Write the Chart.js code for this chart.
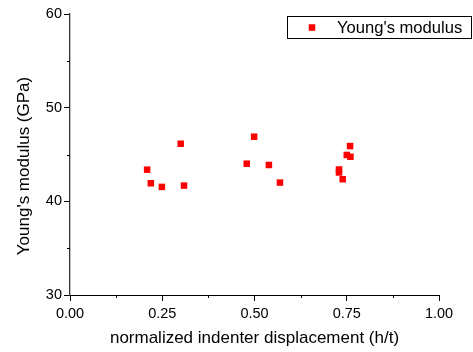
<!DOCTYPE html>
<html>
<head>
<meta charset="utf-8">
<script src="https://cdn.jsdelivr.net/npm/chart.js@4/dist/chart.umd.min.js"></script>
<style>
html,body{margin:0;padding:0;background:#fff;}
canvas{display:block;}
</style>
</head>
<body>
<canvas id="c" width="473" height="352"></canvas>
<script>
const seriesLabel = "Young's modulus";
const xValues = [0.209, 0.219, 0.249, 0.300, 0.309, 0.479, 0.499, 0.539, 0.569, 0.729, 0.729, 0.739, 0.750, 0.760, 0.759];
const yValues = [43.38, 41.93, 41.54, 46.15, 41.68, 44.02, 46.90, 43.88, 42.00, 43.40, 43.08, 42.36, 44.95, 44.76, 45.90];
const xTicks = [0, 0.25, 0.5, 0.75, 1];
const yTicks = [30, 40, 50, 60];
const xMinorTicks = [0.125, 0.375, 0.625, 0.875];
const yMinorTicks = [35, 45, 55];
const xTitle = "normalized indenter displacement (h/t)";
const yTitle = "Young's modulus (GPa)";

const FONT = '"Liberation Sans", Arial, Helvetica, sans-serif';
const RED = '#ff0000';

const points = xValues.map((x, i) => ({x: x, y: yValues[i]}));

const extras = {
  id: 'extras',
  afterDraw(chart) {
    const ctx = chart.ctx;
    const xs = chart.scales.x, ys = chart.scales.y;
    ctx.save();
    // minor ticks
    ctx.strokeStyle = '#000';
    ctx.lineWidth = 1;
    xMinorTicks.forEach(v => {
      const px = Math.round(xs.getPixelForValue(v)) + 0.5;
      ctx.beginPath();
      ctx.moveTo(px, xs.top);
      ctx.lineTo(px, xs.top + 3);
      ctx.stroke();
    });
    yMinorTicks.forEach(v => {
      const py = Math.round(ys.getPixelForValue(v)) + 0.5;
      ctx.beginPath();
      ctx.moveTo(ys.right, py);
      ctx.lineTo(ys.right - 3, py);
      ctx.stroke();
    });
    // y title
    ctx.fillStyle = '#000';
    ctx.font = '17px ' + FONT;
    ctx.textAlign = 'center';
    ctx.textBaseline = 'middle';
    ctx.translate(24.5, 166);
    ctx.rotate(-Math.PI / 2);
    ctx.fillText(yTitle, 0, 0);
    ctx.restore();

    // legend
    ctx.save();
    const ds = chart.data.datasets[0];
    const bx = 287.5, by = 16.5, bw = 184, bh = 22;
    ctx.strokeStyle = '#000';
    ctx.lineWidth = 1;
    ctx.strokeRect(bx, by, bw, bh);
    ctx.fillStyle = ds.backgroundColor;
    const s = 6.5;
    ctx.fillRect(312 - s / 2, 27.5 - s / 2, s, s);
    ctx.fillStyle = '#000';
    ctx.font = '16.6px ' + FONT;
    ctx.textAlign = 'left';
    ctx.textBaseline = 'middle';
    ctx.fillText(ds.label, 337, 28);
    ctx.restore();
  }
};

new Chart(document.getElementById('c'), {
  type: 'scatter',
  data: {
    datasets: [{
      label: seriesLabel,
      data: points,
      backgroundColor: RED,
      borderColor: RED,
      borderWidth: 0,
      pointStyle: 'rect',
      pointRadius: 4.6,
      pointHoverRadius: 4.6
    }]
  },
  options: {
    responsive: false,
    animation: false,
    devicePixelRatio: 1,
    layout: {padding: {left: 0, right: 34, top: 14, bottom: 0}},
    plugins: {
      legend: {display: false},
      tooltip: {enabled: false}
    },
    scales: {
      x: {
        type: 'linear',
        position: 'bottom',
        min: 0, max: 1,
        afterBuildTicks: s => { s.ticks = xTicks.map(v => ({value: v})); },
        afterFit: s => { s.height = 57; },
        ticks: {
          callback: v => Number(v).toFixed(2),
          font: {family: FONT, size: 14.5},
          color: '#000',
          padding: 4,
          maxRotation: 0,
          autoSkip: false
        },
        grid: {drawOnChartArea: false, drawTicks: true, tickLength: 6, tickColor: '#000'},
        border: {display: true, color: '#000', width: 1},
        title: {
          display: true,
          text: xTitle,
          font: {family: FONT, size: 17},
          color: '#000',
          padding: {top: 0, bottom: 3}
        }
      },
      y: {
        type: 'linear',
        position: 'left',
        min: 30, max: 60,
        afterBuildTicks: s => { s.ticks = yTicks.map(v => ({value: v})); },
        afterFit: s => { s.width = 70; },
        ticks: {
          callback: v => String(v),
          font: {family: FONT, size: 14.5},
          color: '#000',
          padding: 2,
          autoSkip: false
        },
        grid: {drawOnChartArea: false, drawTicks: true, tickLength: 6, tickColor: '#000'},
        border: {display: true, color: '#333', width: 1.3},
        title: {display: false}
      }
    }
  },
  plugins: [extras]
});
</script>
</body>
</html>
